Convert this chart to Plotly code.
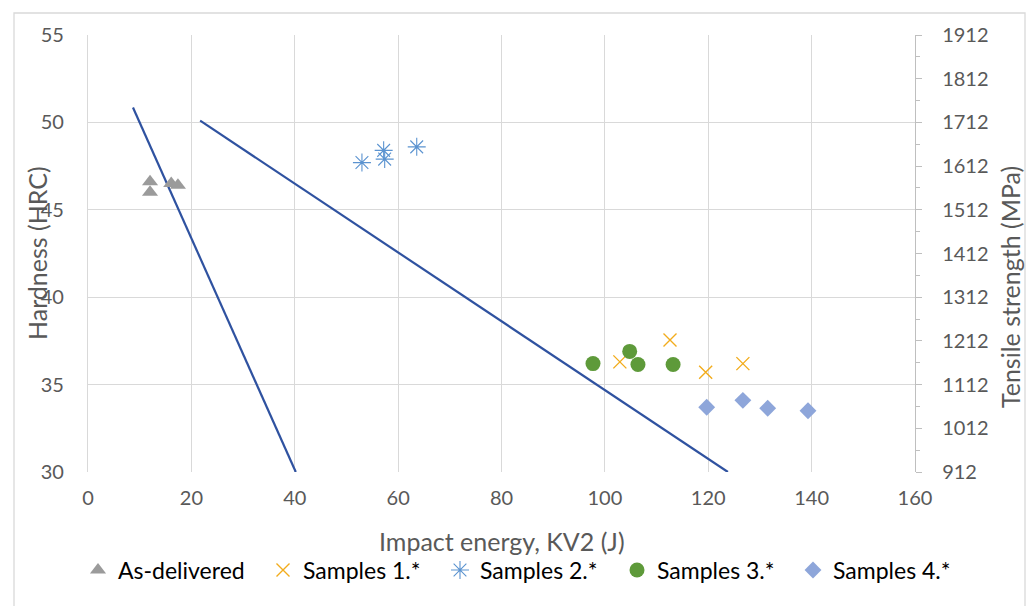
import plotly.graph_objects as go

# ---- data ----
asdel_x = [12.0, 12.0, 16.1, 17.4]
asdel_y = [46.6, 46.0, 46.5, 46.4]

s1_x = [102.9, 112.6, 119.5, 126.7]
s1_y = [36.3, 37.55, 35.7, 36.2]

s2_x = [53.0, 57.2, 57.4, 63.6]
s2_y = [47.7, 48.4, 47.9, 48.6]

s3_x = [97.7, 104.8, 106.4, 113.2]
s3_y = [36.2, 36.9, 36.15, 36.15]

s4_x = [119.7, 126.7, 131.5, 139.3]
s4_y = [33.7, 34.1, 33.65, 33.5]

line1_x = [8.7, 40.2]
line1_y = [50.85, 30.0]
line2_x = [21.7, 123.8]
line2_y = [50.1, 30.0]

x_ticks = [0, 20, 40, 60, 80, 100, 120, 140, 160]
y_ticks = [30, 35, 40, 45, 50, 55]
y2_ticks = [912, 1012, 1112, 1212, 1312, 1412, 1512, 1612, 1712, 1812, 1912]

FONT = "Lato"
TXT = "#595959"
GRID = "#d9d9d9"

fig = go.Figure()

for lx, ly in [(line1_x, line1_y), (line2_x, line2_y)]:
    fig.add_trace(go.Scatter(x=lx, y=ly, mode="lines", showlegend=False,
                             line=dict(color="#2F52A0", width=2.2), hoverinfo="skip"))

fig.add_trace(go.Scatter(x=asdel_x, y=asdel_y, mode="markers", name="As-delivered", legend="legend",
                         marker=dict(symbol="triangle-up", size=14, color="#9b9b9b")))
fig.add_trace(go.Scatter(x=s1_x, y=s1_y, mode="markers", name="Samples 1.*", legend="legend2",
                         marker=dict(symbol="x-thin-open", size=13, color="#F2AC1C",
                                     line=dict(width=1.4, color="#F2AC1C"))))
fig.add_trace(go.Scatter(x=s2_x, y=s2_y, mode="markers", name="Samples 2.*", legend="legend3",
                         marker=dict(symbol="asterisk-open", size=15, color="#5B93D0",
                                     line=dict(width=1.1, color="#5B93D0"))))
fig.add_trace(go.Scatter(x=s3_x, y=s3_y, mode="markers", name="Samples 3.*", legend="legend4",
                         marker=dict(symbol="circle", size=15, color="#5E9A3A")))
fig.add_trace(go.Scatter(x=s4_x, y=s4_y, mode="markers", name="Samples 4.*", legend="legend5",
                         marker=dict(symbol="diamond", size=13, color="#8EA6DA")))

# dummy trace to activate the secondary axis
fig.add_trace(go.Scatter(x=[None], y=[None], yaxis="y2", showlegend=False, hoverinfo="skip"))


def leg(marker_px):
    return dict(orientation="h", xref="container", yref="container",
                x=(marker_px - 20) / 1028, xanchor="left", y=1 - 570 / 606, yanchor="middle",
                font=dict(size=23, color="#000000"), bgcolor="rgba(0,0,0,0)")


fig.update_layout(
    width=1028, height=606,
    margin=dict(l=88, r=113, t=35, b=134, autoexpand=False),
    paper_bgcolor="white", plot_bgcolor="white",
    font=dict(family=FONT, color=TXT, size=20),
    xaxis=dict(range=[0, 160], tickvals=x_ticks, showgrid=True, gridcolor=GRID, gridwidth=1.3,
               zeroline=False, showline=False, ticks="", tickfont=dict(size=20, color=TXT),
               ticklabelstandoff=12),
    yaxis=dict(range=[30, 55], tickvals=y_ticks, showgrid=True, gridcolor=GRID, gridwidth=1.3,
               zeroline=False, showline=True, linecolor=GRID, linewidth=1.3, ticks="",
               tickfont=dict(size=20, color=TXT), ticklabelstandoff=19),
    yaxis2=dict(range=[912, 1912], tickvals=y2_ticks, overlaying="y", side="right",
                showgrid=False, zeroline=False, showline=True, linecolor="#bfbfbf", linewidth=1.3,
                ticks="outside", ticklen=6, tickcolor="#bfbfbf",
                minor=dict(dtick=50, tick0=912, ticks="outside", ticklen=4, tickcolor="#bfbfbf"),
                tickfont=dict(size=20, color=TXT), ticklabelstandoff=16),
    legend=leg(98), legend2=leg(283), legend3=leg(460), legend4=leg(637), legend5=leg(813),
    showlegend=True,
)

fig.add_annotation(text="Impact energy, KV2 (J)", xref="paper", yref="paper",
                   x=(502 - 88) / 827, y=-0.157, yanchor="middle", showarrow=False,
                   font=dict(size=25, color=TXT))
fig.add_annotation(text="Hardness (HRC)", xref="paper", yref="paper",
                   x=(37 - 88) / 827, y=(472 - 253) / 437, textangle=-90, showarrow=False,
                   xanchor="center", yanchor="middle", font=dict(size=25, color=TXT))
fig.add_annotation(text="Tensile strength (MPa)", xref="paper", yref="paper",
                   x=(1010 - 88) / 827, y=(472 - 287) / 437, textangle=-90, showarrow=False,
                   xanchor="center", yanchor="middle", font=dict(size=25, color=TXT))

# chart frame
fig.add_shape(type="rect", xref="paper", yref="paper",
              x0=(14 - 88) / 827, x1=(1025 - 88) / 827,
              y0=-(640 - 472) / 437, y1=(472 - 13) / 437,
              line=dict(color="#d9d9d9", width=1.3), fillcolor="rgba(0,0,0,0)", layer="below")

fig.write_html("out.html")
